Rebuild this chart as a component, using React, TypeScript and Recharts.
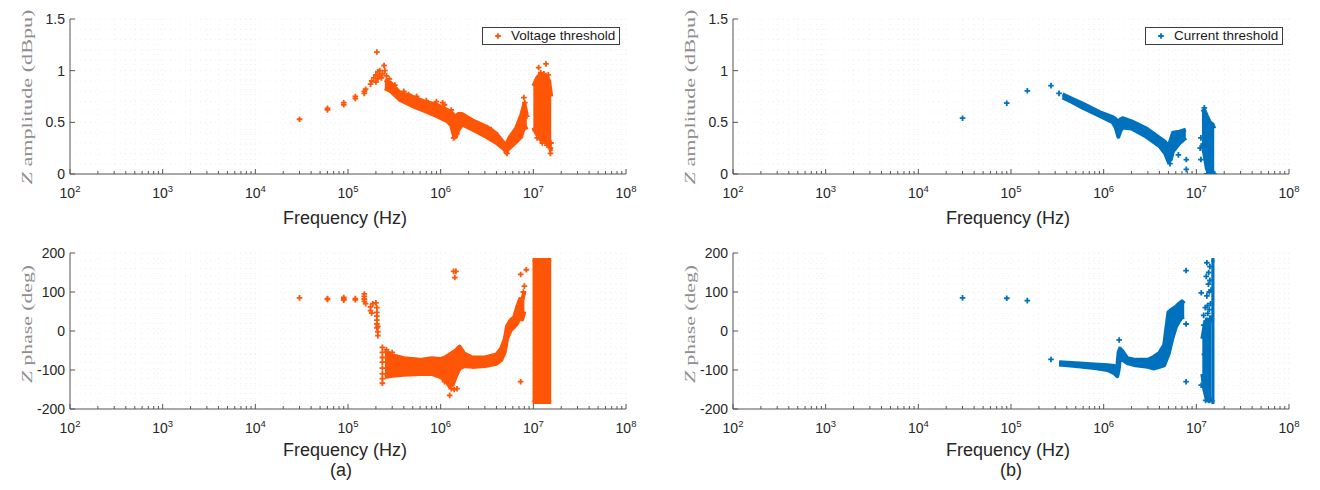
import React from 'react';
import { ComposedChart, Scatter, Area, XAxis, YAxis, CartesianGrid, Legend } from 'recharts';

// ---------- axis ticks ----------
const X_TICKS = [
  100, 200, 300, 400, 500, 600, 700, 800, 900,
  1000, 2000, 3000, 4000, 5000, 6000, 7000, 8000, 9000,
  10000, 20000, 30000, 40000, 50000, 60000, 70000, 80000, 90000,
  100000, 200000, 300000, 400000, 500000, 600000, 700000, 800000, 900000,
  1000000, 2000000, 3000000, 4000000, 5000000, 6000000, 7000000, 8000000, 9000000,
  10000000, 20000000, 30000000, 40000000, 50000000, 60000000, 70000000, 80000000, 90000000,
  100000000,
];
const X_MAJOR = [100, 1000, 10000, 100000, 1000000, 10000000, 100000000];
const X_EXP = ['2', '3', '4', '5', '6', '7', '8'];

const AMP_TICKS = [0, 0.1, 0.2, 0.3, 0.4, 0.5, 0.6, 0.7, 0.8, 0.9, 1, 1.1, 1.2, 1.3, 1.4, 1.5];
const AMP_MAJOR = [0, 0.5, 1, 1.5];
const AMP_LABELS = ['0', '0.5', '1', '1.5'];

const PHASE_TICKS = [-200, -180, -160, -140, -120, -100, -80, -60, -40, -20, 0, 20, 40, 60, 80, 100, 120, 140, 160, 180, 200];
const PHASE_MAJOR = [-200, -100, 0, 100, 200];
const PHASE_LABELS = ['-200', '-100', '0', '100', '200'];

// ---------- (a) voltage threshold : amplitude ----------
const VOLT_AMP_POINTS: [number, number][] = [
  [3e4, 0.53], [6e4, 0.62], [6e4, 0.635], [9e4, 0.67], [9e4, 0.69], [1.2e5, 0.73], [1.2e5, 0.75],
  [1.5e5, 0.78], [1.5e5, 0.8], [1.55e5, 0.82], [1.75e5, 0.87], [1.8e5, 0.9], [1.9e5, 0.93],
  [2.0e5, 0.89], [2.0e5, 0.96], [2.05e5, 1.18], [2.1e5, 0.92], [2.1e5, 0.99], [2.2e5, 0.95],
  [2.2e5, 1.0], [2.3e5, 0.93], [2.35e5, 0.97], [2.45e5, 1.05], [2.5e5, 1.0], [2.6e5, 0.95],
  [2.8e5, 0.92], [3.2e5, 0.86], [4e5, 0.8], [4.5e5, 0.77], [5.5e5, 0.75], [7e5, 0.71], [9e5, 0.7],
  [1.05e6, 0.69], [1.1e6, 0.67], [1.3e6, 0.62], [1.38e6, 0.35], [1.42e6, 0.36], [1.5e6, 0.39],
  [3.5e6, 0.43], [5.1e6, 0.21], [5.2e6, 0.2], [7.9e6, 0.74], [8.1e6, 0.69], [8.5e6, 0.56],
  [1.14e7, 1.03], [1.37e7, 1.065], [1.2e7, 0.98], [1.3e7, 0.97], [1.45e7, 0.96], [1.53e7, 0.2],
  [1.53e7, 0.25], [1.55e7, 0.3], [1.05e7, 0.42], [1.1e7, 0.35], [1.25e7, 0.3], [1.4e7, 0.28],
];
const VOLT_AMP_BAND: [number, number, number][] = [
  [2.5e5, 0.83, 0.91], [2.9e5, 0.8, 0.88], [3.6e5, 0.72, 0.79], [4.9e5, 0.66, 0.75], [6.7e5, 0.61, 0.7],
  [9.1e5, 0.56, 0.67], [1.18e6, 0.51, 0.62], [1.3e6, 0.47, 0.6], [1.38e6, 0.38, 0.57], [1.46e6, 0.36, 0.56],
  [1.54e6, 0.42, 0.58], [1.7e6, 0.48, 0.58], [2.2e6, 0.43, 0.52], [3.1e6, 0.36, 0.46], [4e6, 0.3, 0.39],
  [4.7e6, 0.25, 0.31], [5.1e6, 0.22, 0.28], [5.5e6, 0.25, 0.35], [6.5e6, 0.31, 0.44], [7.4e6, 0.36, 0.57],
  [8e6, 0.47, 0.68], [8.5e6, 0.43, 0.57],
];
const VOLT_AMP_CLUSTER: [number, number, number][] = [
  [1.0e7, 0.45, 0.85], [1.1e7, 0.38, 0.93], [1.2e7, 0.33, 0.97], [1.3e7, 0.31, 0.95],
  [1.4e7, 0.3, 0.95], [1.48e7, 0.28, 0.9], [1.56e7, 0.22, 0.75],
];

// ---------- (a) voltage threshold : phase ----------
const VOLT_PHASE_POINTS: [number, number][] = [
  [3e4, 85], [6e4, 83], [6e4, 81], [9e4, 86], [9e4, 82], [9e4, 79], [1.2e5, 83], [1.2e5, 80],
  [1.5e5, 95], [1.5e5, 89], [1.5e5, 82], [1.5e5, 76], [1.55e5, 70], [1.75e5, 62], [1.75e5, 52],
  [1.8e5, 46], [1.85e5, 70], [2.0e5, 72], [2.05e5, 60], [2.05e5, 48], [2.05e5, 38], [2.05e5, 28],
  [2.05e5, 18], [2.05e5, 8], [2.1e5, -2], [2.1e5, -12], [2.1e5, 12], [2.35e5, -42], [2.35e5, -55],
  [2.35e5, -68], [2.35e5, -80], [2.35e5, -95], [2.35e5, -110], [2.35e5, -122], [2.35e5, -134],
  [2.6e5, -48], [3e5, -55], [1.38e6, 153], [1.46e6, 153], [1.42e6, 137], [1.25e6, -165],
  [1.3e6, -148], [1.4e6, -150], [1.5e6, -148], [1.1e6, -130], [7.3e6, 145], [8.4e6, 157],
  [7.3e6, -130], [8e6, 115], [7.8e6, 100],
];
const VOLT_PHASE_BAND: [number, number, number][] = [
  [2.5e5, -118, -50], [3e5, -115, -62], [4e5, -112, -70], [6e5, -110, -74], [8e5, -110, -70],
  [1e6, -118, -72], [1.15e6, -130, -66], [1.25e6, -142, -60], [1.35e6, -138, -55], [1.45e6, -118, -50],
  [1.6e6, -96, -40], [1.8e6, -90, -58], [2.2e6, -92, -68], [3e6, -90, -68], [4e6, -84, -60],
  [4.5e6, -75, -45], [4.9e6, -55, -22], [5.2e6, -20, 12], [5.7e6, 2, 28], [6.2e6, 10, 35],
  [6.7e6, 20, 62], [7.2e6, 35, 82], [7.6e6, 30, 80], [8e6, 50, 100],
];
const VOLT_PHASE_CLUSTER: [number, number, number][] = [
  [0.98e7, -182, 182], [1.56e7, -182, 182],
];

// ---------- (b) current threshold : amplitude ----------
const CURR_AMP_POINTS: [number, number][] = [
  [3e4, 0.54], [9e4, 0.685], [1.5e5, 0.805], [2.7e5, 0.855], [3.3e5, 0.78], [6.4e6, 0.185],
  [7.8e6, 0.14], [7.8e6, 0.045], [1.12e7, 0.35], [1.12e7, 0.14], [1.1e7, 0.25], [1.22e7, 0.64],
  [1.3e7, 0.0], [1.55e7, 0.0], [5.2e6, 0.1],
];
const CURR_AMP_BAND: [number, number, number][] = [
  [3.6e5, 0.74, 0.77], [4.5e5, 0.7, 0.73], [6e5, 0.64, 0.68], [9e5, 0.565, 0.6], [1.25e6, 0.5, 0.55],
  [1.35e6, 0.45, 0.53], [1.44e6, 0.36, 0.5], [1.52e6, 0.42, 0.53], [1.6e6, 0.45, 0.54], [2e6, 0.44, 0.51],
  [2.9e6, 0.36, 0.44], [4e6, 0.27, 0.35], [4.6e6, 0.2, 0.31], [5e6, 0.12, 0.27], [5.3e6, 0.14, 0.33],
  [5.6e6, 0.22, 0.4], [6.6e6, 0.3, 0.41], [7.7e6, 0.35, 0.43],
];
const CURR_AMP_CLUSTER: [number, number, number][] = [
  [1.15e7, 0.3, 0.6], [1.22e7, 0.2, 0.62], [1.3e7, 0.05, 0.56], [1.4e7, 0.0, 0.5],
  [1.5e7, 0.0, 0.48], [1.56e7, 0.03, 0.44],
];

// ---------- (b) current threshold : phase ----------
const CURR_PHASE_POINTS: [number, number][] = [
  [3e4, 85], [9e4, 84], [1.5e5, 78], [2.7e5, -73], [1.47e6, -23], [7.75e6, 155], [7.75e6, 18],
  [7.75e6, -130], [1.13e7, 98], [1.13e7, -139], [1.2e7, 40], [1.2e7, 15], [1.22e7, -60],
  [1.25e7, 60], [1.3e7, 90], [1.35e7, 120], [1.28e7, 140], [1.4e7, 165], [1.38e7, 100],
  [1.42e7, 70], [1.33e7, 45], [1.36e7, 150], [1.26e7, -178], [1.3e7, -165], [1.27e7, 25],
  [1.32e7, 65], [1.4e7, 130], [1.44e7, 105], [1.3e7, 175], [1.38e7, 55],
];
const CURR_PHASE_BAND: [number, number, number][] = [
  [3.3e5, -86, -80], [5e5, -90, -83], [8e5, -95, -86], [1.1e6, -100, -88], [1.3e6, -108, -90],
  [1.4e6, -116, -94], [1.45e6, -100, -55], [1.5e6, -68, -45], [1.6e6, -74, -52], [1.8e6, -82, -70],
  [2.2e6, -88, -74], [3e6, -92, -74], [3.5e6, -96, -66], [4e6, -92, -56], [4.5e6, -88, -36],
  [5e6, -60, 48], [5.5e6, -20, 56], [6e6, 10, 62], [6.5e6, 25, 70], [7e6, 35, 76], [7.4e6, 36, 70],
];
const CURR_PHASE_CORE: [number, number, number][] = [
  [1.16e7, -110, -20], [1.22e7, -150, 10], [1.3e7, -176, 30], [1.38e7, -180, 20], [1.45e7, -170, 40],
];
const CURR_PHASE_COLUMN: [number, number, number][] = [
  [1.45e7, -182, 182], [1.57e7, -182, 182],
];

// ---------- styling ----------
const ORANGE = '#FF5507';
const BLUE = '#0072BD';
const AXIS = '#555555';
const TXT = '#262626';
const SANS = "'Liberation Sans', Arial, Helvetica, sans-serif";
const SERIF = "'Liberation Serif', 'Times New Roman', serif";
const W = 660;
const H = 245;
const PW = 556;
const XH = 40;

const makePlus = (color: string) => (props: any) => {
  const { cx, cy } = props;
  if (cx == null || cy == null || isNaN(cx) || isNaN(cy)) return <g />;
  return (
    <path
      d={`M${cx - 2.8},${cy}H${cx + 2.8}M${cx},${cy - 2.8}V${cy + 2.8}`}
      stroke={color}
      strokeWidth={1.8}
      fill="none"
    />
  );
};

const XTickBottom = (p: any) => {
  const { x, y, payload } = p;
  const i = X_MAJOR.indexOf(payload.value);
  const major = i >= 0;
  return (
    <g>
      <line x1={x} x2={x} y1={y} y2={y - (major ? 5 : 3)} stroke={AXIS} strokeWidth={1} />
      {major && (
        <text x={x} y={y + 24} textAnchor="middle" fontFamily={SANS} fontSize={14} fill={TXT}>
          10
          <tspan dy={-6} fontSize={9.5}>
            {X_EXP[i]}
          </tspan>
        </text>
      )}
    </g>
  );
};

const XTickTop = (p: any) => {
  const { x, y, payload } = p;
  const major = X_MAJOR.indexOf(payload.value) >= 0;
  return <line x1={x} x2={x} y1={y} y2={y + (major ? 5 : 3)} stroke={AXIS} strokeWidth={1} />;
};

const makeYTickLeft = (major: number[], labels: string[]) => (p: any) => {
  const { x, y, payload } = p;
  const i = major.indexOf(payload.value);
  if (i < 0) return <g />;
  return (
    <g>
      <line x1={x} x2={x + 5} y1={y} y2={y} stroke={AXIS} strokeWidth={1} />
      <text x={x - 5} y={y + 5} textAnchor="end" fontFamily={SANS} fontSize={14} fill={TXT}>
        {labels[i]}
      </text>
    </g>
  );
};

const makeYTickRight = (major: number[]) => (p: any) => {
  const { x, y, payload } = p;
  if (major.indexOf(payload.value) < 0) return <g />;
  return <line x1={x} x2={x - 5} y1={y} y2={y} stroke={AXIS} strokeWidth={1} />;
};

interface PanelProps {
  left: number;
  top: number;
  plotLeft: number;
  plotTop: number;
  plotH: number;
  color: string;
  points: [number, number][];
  bands: [number, number, number][][];
  yDomain: [number, number];
  yTicks: number[];
  yMajor: number[];
  yLabels: string[];
  yLabelMain: string;
  yLabelLen: number;
  yLabelCy: number;
  xLabelBaseline: number;
  caption?: string;
  captionBaseline?: number;
  captionDx?: number;
  legendText?: string;
  legendX?: number;
  legendY?: number;
}

function Panel(props: PanelProps) {
  const {
    left, top, plotLeft, plotTop, plotH, color, points, bands, yDomain, yTicks, yMajor, yLabels,
    yLabelMain, yLabelLen, yLabelCy, xLabelBaseline, caption, captionBaseline, captionDx,
    legendText, legendX, legendY,
  } = props;
  const margin = { top: plotTop, right: W - plotLeft - PW, bottom: H - plotTop - plotH - XH, left: 0 };
  const cxPlot = plotLeft + PW / 2;
  const plusShape = makePlus(color);

  const xLabel = () => (
    <g>
      <text x={cxPlot - 3} y={xLabelBaseline} textAnchor="middle" fontFamily={SANS} fontSize={18} fill={TXT}>
        Frequency (Hz)
      </text>
      {caption && (
        <text x={cxPlot + (captionDx || 0)} y={captionBaseline} textAnchor="middle" fontFamily={SANS} fontSize={18} fill={TXT}>
          {caption}
        </text>
      )}
    </g>
  );

  const yLabel = () => (
    <text
      transform={`translate(${plotLeft - 43},${yLabelCy}) rotate(-90)`}
      x={0}
      y={0}
      textAnchor="middle"
      dominantBaseline="central"
      fontFamily={SERIF}
      fontSize={15}
      fill="#8e8e8e"
      textLength={yLabelLen}
      lengthAdjust="spacingAndGlyphs"
    >
      <tspan fontStyle="italic">Z</tspan>
      {' ' + yLabelMain}
    </text>
  );

  return (
    <div style={{ position: 'absolute', left, top, width: W, height: H }}>
      <ComposedChart width={W} height={H} margin={margin}>
        <CartesianGrid stroke="#efefef" strokeDasharray="1 4" />
        <XAxis
          dataKey="f"
          type="number"
          scale="log"
          domain={[100, 100000000]}
          allowDataOverflow
          ticks={X_TICKS}
          interval={0}
          tickSize={0}
          tickMargin={0}
          tickLine={false}
          axisLine={{ stroke: AXIS }}
          height={XH}
          tick={(p: any) => <XTickBottom {...p} />}
          label={xLabel}
        />
        <XAxis
          xAxisId="top"
          orientation="top"
          dataKey="f"
          type="number"
          scale="log"
          domain={[100, 100000000]}
          allowDataOverflow
          ticks={X_TICKS}
          interval={0}
          tickSize={0}
          tickMargin={0}
          tickLine={false}
          axisLine={{ stroke: AXIS }}
          height={0}
          tick={(p: any) => <XTickTop {...p} />}
        />
        <YAxis
          type="number"
          domain={yDomain}
          allowDataOverflow
          ticks={yTicks}
          interval={0}
          width={plotLeft}
          tickSize={0}
          tickMargin={0}
          tickLine={false}
          axisLine={{ stroke: AXIS }}
          tick={makeYTickLeft(yMajor, yLabels)}
          label={yLabel}
        />
        <YAxis
          yAxisId="right"
          orientation="right"
          type="number"
          domain={yDomain}
          allowDataOverflow
          ticks={yTicks}
          interval={0}
          width={0}
          tickSize={0}
          tickMargin={0}
          tickLine={false}
          axisLine={{ stroke: AXIS }}
          tick={makeYTickRight(yMajor)}
        />
        {bands.map((b, k) => (
          <Area
            key={'band' + k}
            data={b.map(([f, lo, hi]) => ({ f, r: [lo, hi] }))}
            dataKey="r"
            type="linear"
            stroke={color}
            strokeWidth={4}
            strokeLinejoin="round"
            fill={color}
            fillOpacity={1}
            dot={false}
            activeDot={false}
            isAnimationActive={false}
          />
        ))}
        <Scatter
          data={points.map(([f, v]) => ({ f, v }))}
          dataKey="v"
          shape={plusShape}
          isAnimationActive={false}
        />
        {legendText && (
          <Legend
            layout="vertical"
            align="center"
            verticalAlign="middle"
            wrapperStyle={{ position: 'absolute', left: legendX, top: legendY, width: 138, height: 18, margin: 0, padding: 0 }}
            content={() => (
              <div
                style={{
                  position: 'relative',
                  boxSizing: 'border-box',
                  width: 138,
                  height: 18,
                  border: '1px solid #3c3c3c',
                  background: '#fff',
                  fontFamily: SANS,
                  fontSize: 13.5,
                  color: '#1a1a1a',
                  lineHeight: '16px',
                  whiteSpace: 'nowrap',
                }}
              >
                <svg width={10} height={10} style={{ position: 'absolute', left: 10, top: 3 }}>
                  <path d="M2.2,5H7.8M5,2.2V7.8" stroke={color} strokeWidth={1.8} />
                </svg>
                <span style={{ position: 'absolute', left: 28, top: 0 }}>{legendText}</span>
              </div>
            )}
          />
        )}
      </ComposedChart>
    </div>
  );
}

export default function App() {
  return (
    <div style={{ position: 'absolute', left: 0, top: 0, width: 1320, height: 490, background: '#fff', overflow: 'hidden' }}>
      <Panel
        left={0}
        top={0}
        plotLeft={70}
        plotTop={19}
        plotH={155}
        color={ORANGE}
        points={VOLT_AMP_POINTS}
        bands={[VOLT_AMP_BAND, VOLT_AMP_CLUSTER]}
        yDomain={[0, 1.5]}
        yTicks={AMP_TICKS}
        yMajor={AMP_MAJOR}
        yLabels={AMP_LABELS}
        yLabelMain="amplitude (dBpu)"
        yLabelLen={175}
        yLabelCy={97}
        xLabelBaseline={224}
        legendText="Voltage threshold"
        legendX={482}
        legendY={27}
      />
      <Panel
        left={660}
        top={0}
        plotLeft={73}
        plotTop={19}
        plotH={155}
        color={BLUE}
        points={CURR_AMP_POINTS}
        bands={[CURR_AMP_BAND, CURR_AMP_CLUSTER]}
        yDomain={[0, 1.5]}
        yTicks={AMP_TICKS}
        yMajor={AMP_MAJOR}
        yLabels={AMP_LABELS}
        yLabelMain="amplitude (dBpu)"
        yLabelLen={175}
        yLabelCy={97}
        xLabelBaseline={224}
        legendText="Current threshold"
        legendX={485}
        legendY={27}
      />
      <Panel
        left={0}
        top={245}
        plotLeft={70}
        plotTop={8}
        plotH={156}
        color={ORANGE}
        points={VOLT_PHASE_POINTS}
        bands={[VOLT_PHASE_BAND, VOLT_PHASE_CLUSTER]}
        yDomain={[-200, 200]}
        yTicks={PHASE_TICKS}
        yMajor={PHASE_MAJOR}
        yLabels={PHASE_LABELS}
        yLabelMain="phase (deg)"
        yLabelLen={118}
        yLabelCy={79}
        xLabelBaseline={211}
        caption="(a)"
        captionBaseline={231}
        captionDx={-7}
      />
      <Panel
        left={660}
        top={245}
        plotLeft={73}
        plotTop={8}
        plotH={156}
        color={BLUE}
        points={CURR_PHASE_POINTS}
        bands={[CURR_PHASE_BAND, CURR_PHASE_CORE, CURR_PHASE_COLUMN]}
        yDomain={[-200, 200]}
        yTicks={PHASE_TICKS}
        yMajor={PHASE_MAJOR}
        yLabels={PHASE_LABELS}
        yLabelMain="phase (deg)"
        yLabelLen={118}
        yLabelCy={79}
        xLabelBaseline={211}
        caption="(b)"
        captionBaseline={231}
        captionDx={0}
      />
    </div>
  );
}
